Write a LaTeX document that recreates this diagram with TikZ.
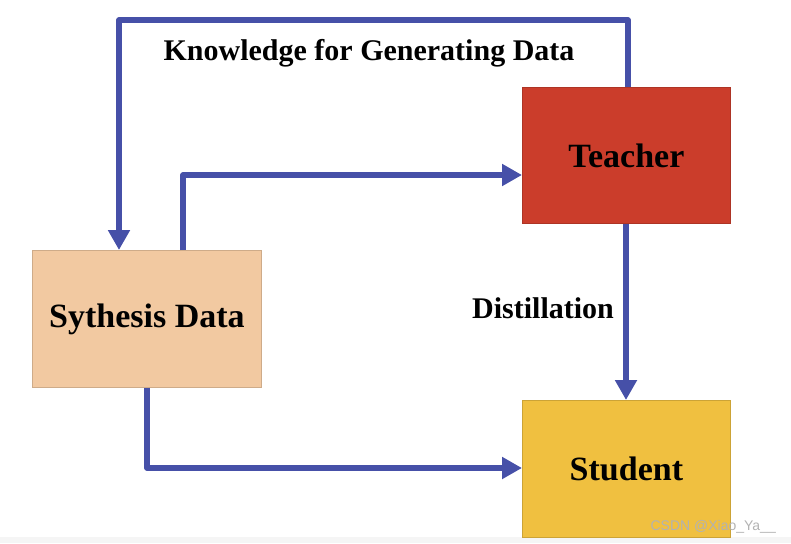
\documentclass[tikz,border=0pt]{standalone}
\usepackage{fontspec}
\setmainfont{Liberation Serif}
\newfontfamily\wmfont{Liberation Sans}
\usetikzlibrary{arrows.meta}
\definecolor{flowblue}{HTML}{4650A8}
\definecolor{teacherred}{HTML}{CB3D2B}
\definecolor{synthpeach}{HTML}{F2C9A1}
\definecolor{studentgold}{HTML}{F0C040}
\tikzset{
  box/.style={draw=#1!85!black, line width=0.8pt, fill=#1, minimum width=208pt, minimum height=136pt, inner sep=0pt, font=\fontsize{34}{40}\selectfont\bfseries},
  flow/.style={draw=flowblue, line width=5.5pt, line join=round, -{Triangle[length=20pt,width=21pt]}},
  lbl/.style={font=\fontsize{30}{36}\selectfont\bfseries, inner sep=0pt}
}
\begin{document}
\begin{tikzpicture}[x=1pt,y=-1pt]
\useasboundingbox (0,0) rectangle (791,543);
\fill[black!4] (0,537) rectangle (791,543);
\node[box=teacherred, anchor=north west] (teacher) at (522,87) {Teacher};
\node[box=synthpeach, anchor=north west, minimum width=229pt, minimum height=137pt] (synth) at (32,250) {Sythesis Data};
\node[box=studentgold, anchor=north west, minimum height=137pt] (student) at (522,400) {Student};
\coordinate (tl) at (119,20);
\coordinate (tr) at (628,20);
\coordinate (m1) at (183,175);
\coordinate (b1) at (147,468);
\draw[flow] (teacher.north -| tr) -- (tr) -- (tl) -- (synth.north -| tl);
\draw[flow] (synth.north -| m1) -- (m1) -- (teacher.west |- m1);
\draw[flow] (teacher.south -| 626,0) -- (student.north -| 626,0);
\draw[flow] (synth.south -| b1) -- (b1) -- (student.west |- b1);
\node[lbl] (klabel) at (369,53) {Knowledge for Generating Data};
\node[lbl] (dlabel) at (543,308) {Distillation};
\node[font=\wmfont\fontsize{14}{16}\selectfont, text=black!30, anchor=east, inner sep=0pt] (wm) at (776,527) {CSDN @Xiao\_Ya\_\_};
\end{tikzpicture}
\end{document}
